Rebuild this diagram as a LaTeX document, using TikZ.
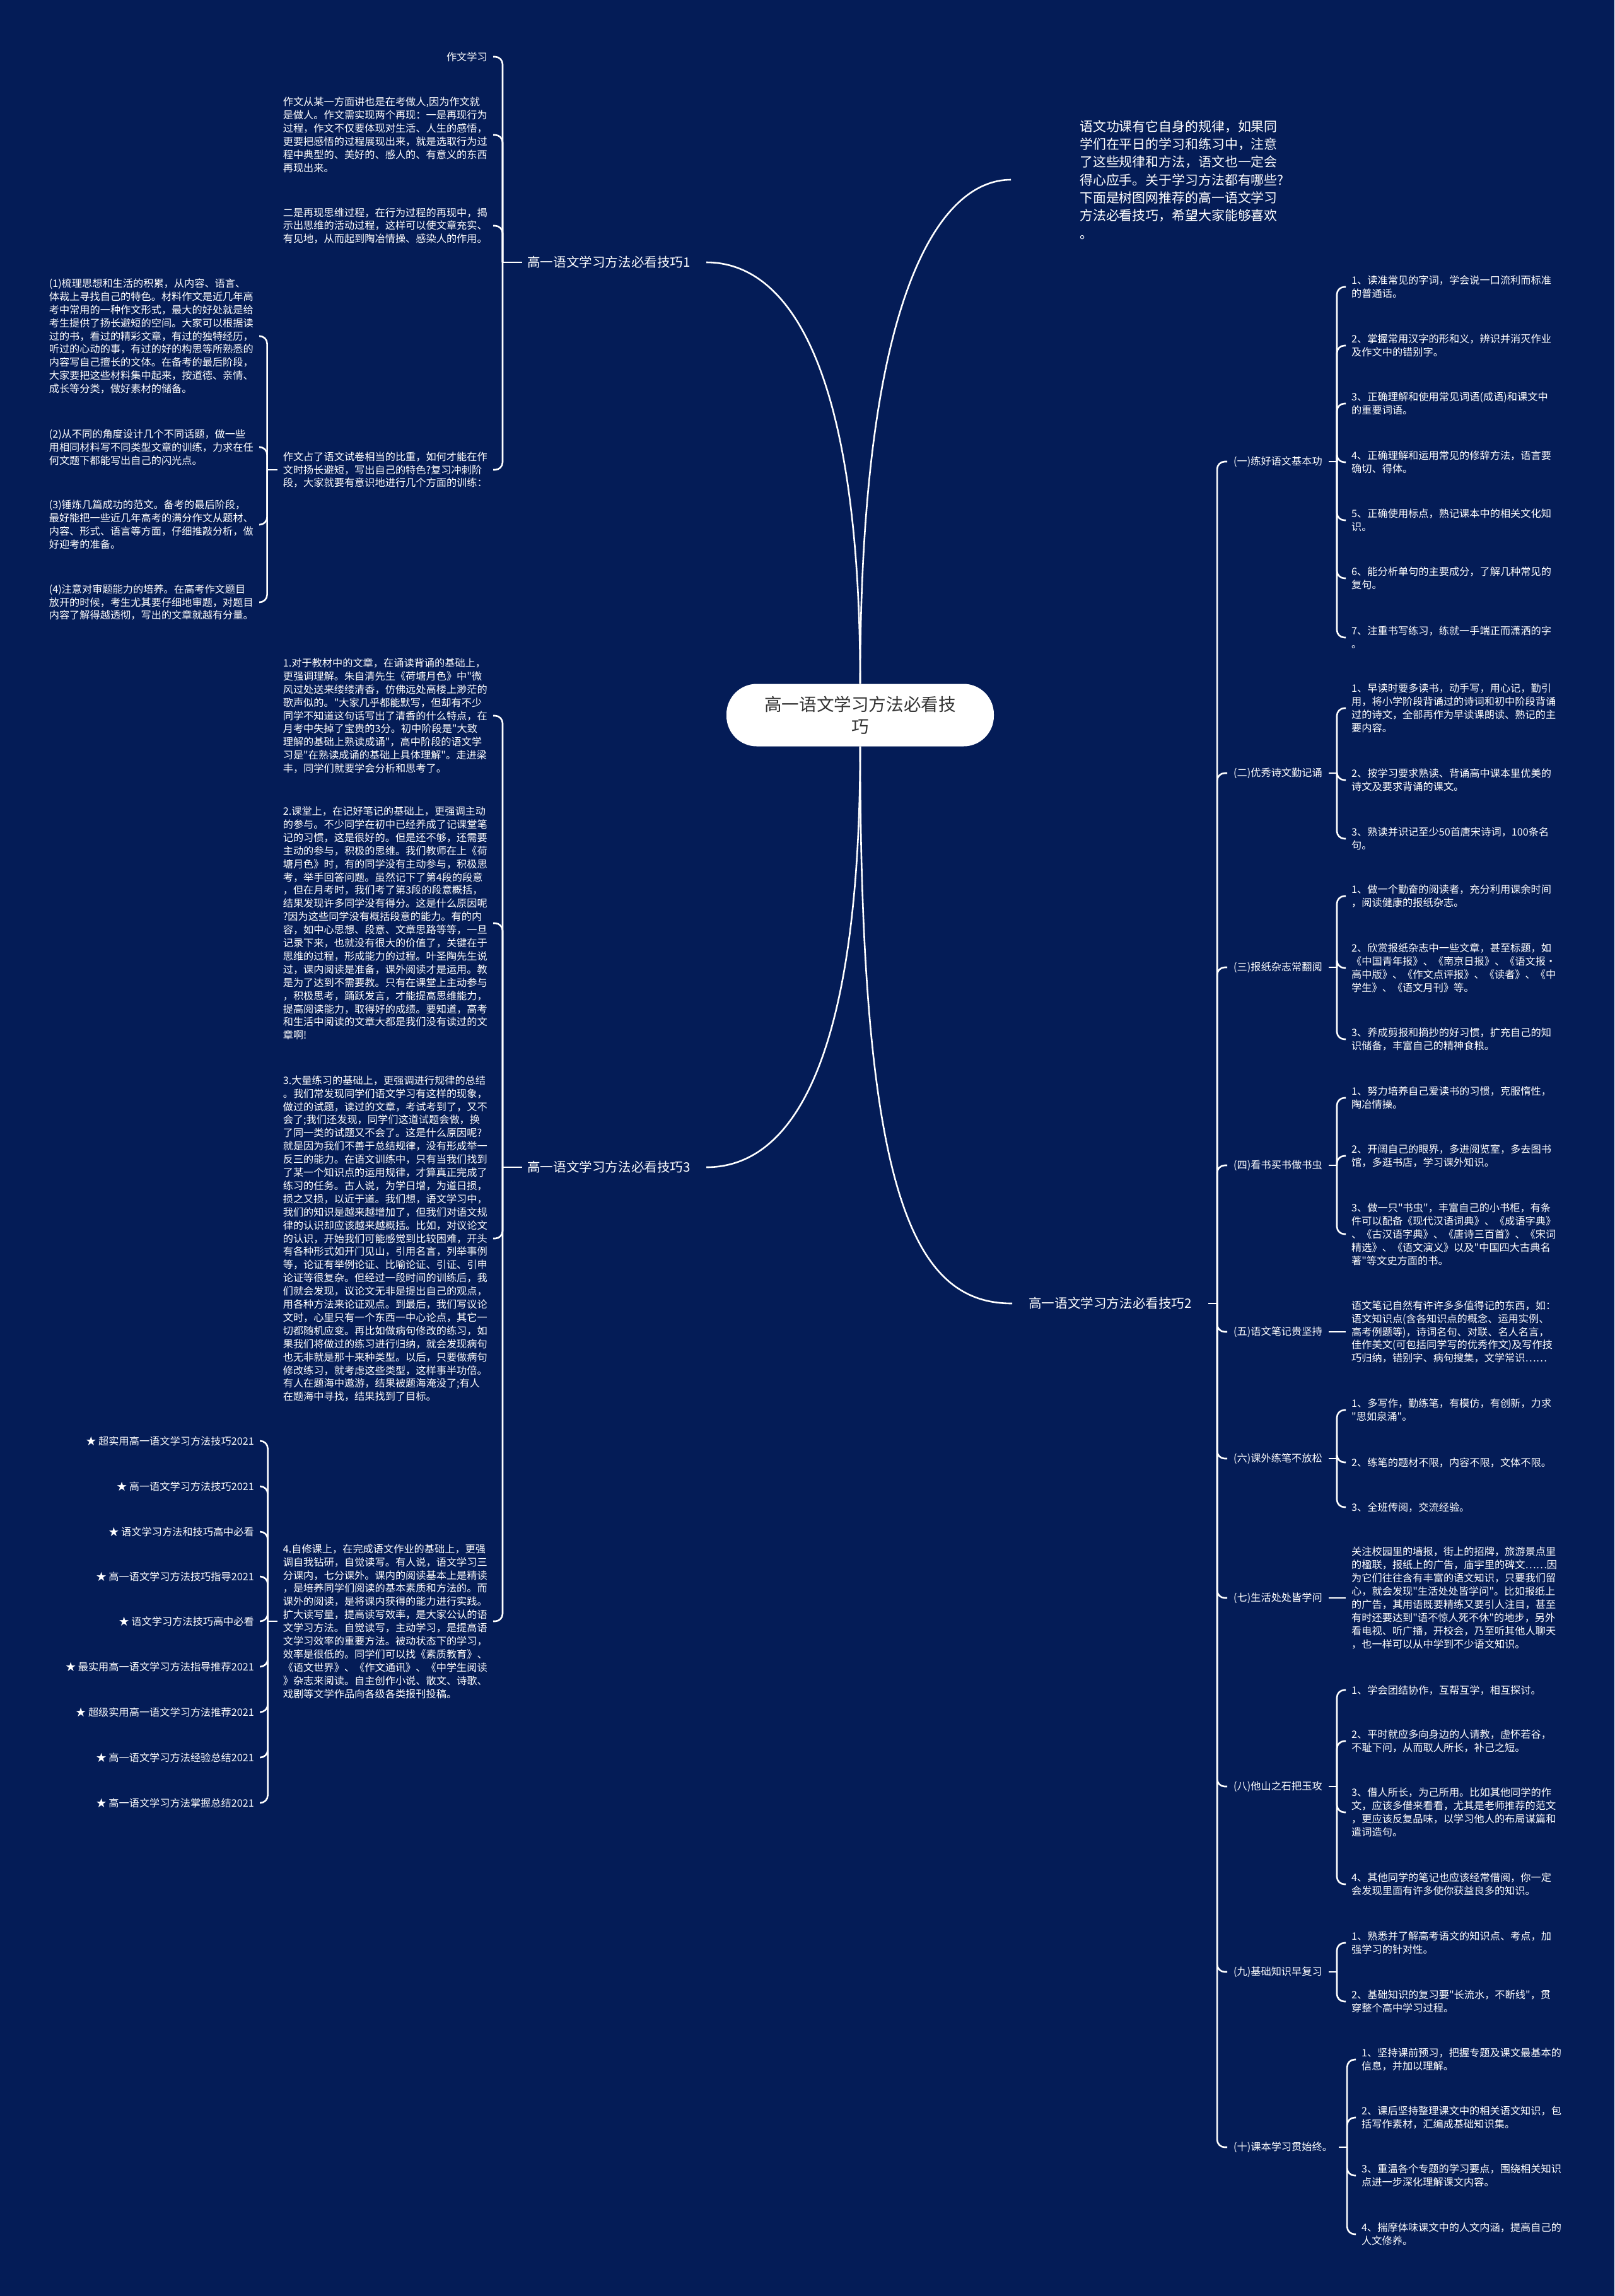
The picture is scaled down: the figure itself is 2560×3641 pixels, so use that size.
\documentclass[tikz,border=0pt]{standalone}
\usepackage{fontspec}
\newfontfamily\cjk{Noto Sans CJK SC}
\usetikzlibrary{calc,positioning}
\definecolor{Navy}{HTML}{041C57}
\definecolor{Ink}{HTML}{333333}

\begin{document}
\begin{tikzpicture}[x=1pt, y=-1pt,
    hub/.style={fill=white, rounded corners=48pt, minimum width=424pt, minimum height=99pt, text=Ink, align=center, font=\cjk\fontsize{27.6}{35}\selectfont},
    intro/.style={text=white, align=left, anchor=west, inner xsep=9pt, font=\cjk\fontsize{20.9}{28.3}\selectfont},
    topic/.style={text=white, inner xsep=8pt, inner ysep=0pt, font=\cjk\fontsize{20.6}{25}\selectfont},
    subtopic/.style={text=white, anchor=west, inner xsep=10pt, inner ysep=0pt, font=\cjk\fontsize{16.2}{20.9}\selectfont},
    note/.style={text=white, align=left, inner xsep=9pt, inner ysep=0pt, font=\cjk\fontsize{16.2}{20.9}\selectfont},
    wire/.style={draw=white, line width=2.6pt},
    curl/.style={wire, rounded corners=12pt}]
    \fill[Navy] (0,0) rectangle (2560,3641);
    \useasboundingbox (0,0) rectangle (2560,3641);

    \node[hub] (root) at (1364,1134) {高一语文学习方法必看技\\巧};

    \node[intro] (intro) at (1703,285) {语文功课有它自身的规律，如果同\\学们在平日的学习和练习中，注意\\了这些规律和方法，语文也一定会\\得心应手。关于学习方法都有哪些?\\下面是树图网推荐的高一语文学习\\方法必看技巧，希望大家能够喜欢\\。};

    \node[topic, anchor=west] (b1) at (828,416) {高一语文学习方法必看技巧1};
    \node[topic, anchor=west] (b3) at (828,1851) {高一语文学习方法必看技巧3};
    \node[topic, anchor=west] (b2) at (1623,2067) {高一语文学习方法必看技巧2};
    \coordinate (j1) at ([xshift=-31pt]b1.west);
    \coordinate (j3) at ([xshift=-31pt]b3.west);
    \coordinate (j2) at ([xshift=32pt]b2.east);

    \draw[wire] (root.north) .. controls ($(root.north)+(0,-620)$) and ($(intro.west)+(-212,0)$) .. ($(intro.west)+(-100,0)$);
    \draw[wire] (root.north) .. controls ($(root.north)+(0,-515)$) and ($(b1.east)+(142,0)$) .. ([xshift=17pt]b1.east);
    \draw[wire] (root.south) .. controls ($(root.south)+(0,516)$) and ($(b3.east)+(146,0)$) .. ([xshift=17pt]b3.east);
    \draw[wire] (root.south) .. controls ($(root.south)+(0,716)$) and ($(b2.west)+(-173,0)$) .. ([xshift=-18pt]b2.west);
    \draw[wire] (b1.west) -- (j1);
    \draw[wire] (b3.west) -- (j3);
    \draw[wire] ([xshift=18pt]b2.east) -- (j2);

    % left, first group
    \node[note, anchor=east] (n11) at (782,90) {作文学习};
    \node[note, anchor=east] (n12) at (782,214) {作文从某一方面讲也是在考做人,因为作文就\\是做人。作文需实现两个再现：一是再现行为\\过程，作文不仅要体现对生活、人生的感悟，\\更要把感悟的过程展现出来，就是选取行为过\\程中典型的、美好的、感人的、有意义的东西\\再现出来。};
    \node[note, anchor=east] (n13) at (782,358) {二是再现思维过程，在行为过程的再现中，揭\\示出思维的活动过程，这样可以使文章充实、\\有见地，从而起到陶冶情操、感染人的作用。};
    \node[note, anchor=east] (n14) at (782,745) {作文占了语文试卷相当的比重，如何才能在作\\文时扬长避短，写出自己的特色?复习冲刺阶\\段，大家就要有意识地进行几个方面的训练：};
    \draw[curl] (j1) |- (n11.east);
    \draw[curl] (j1) |- (n12.east);
    \draw[curl] (j1) |- (n13.east);
    \draw[curl] (j1) |- (n14.east);

    \node[note, anchor=east] (n141) at (411,533) {(1)梳理思想和生活的积累，从内容、语言、\\体裁上寻找自己的特色。材料作文是近几年高\\考中常用的一种作文形式，最大的好处就是给\\考生提供了扬长避短的空间。大家可以根据读\\过的书，看过的精彩文章，有过的独特经历，\\听过的心动的事，有过的好的构思等所熟悉的\\内容写自己擅长的文体。在备考的最后阶段，\\大家要把这些材料集中起来，按道德、亲情、\\成长等分类，做好素材的储备。};
    \node[note, anchor=east] (n142) at (411,709) {(2)从不同的角度设计几个不同话题，做一些\\用相同材料写不同类型文章的训练，力求在任\\何文题下都能写出自己的闪光点。};
    \node[note, anchor=east] (n143) at (411,832) {(3)锤炼几篇成功的范文。备考的最后阶段，\\最好能把一些近几年高考的满分作文从题材、\\内容、形式、语言等方面，仔细推敲分析，做\\好迎考的准备。};
    \node[note, anchor=east] (n144) at (411,955) {(4)注意对审题能力的培养。在高考作文题目\\放开的时候，考生尤其要仔细地审题，对题目\\内容了解得越透彻，写出的文章就越有分量。};
    \coordinate (j14) at ([xshift=-16pt]n14.west);
    \draw[wire] (n14.west) -- (j14);
    \draw[curl] (j14) |- (n141.east);
    \draw[curl] (j14) |- (n142.east);
    \draw[curl] (j14) |- (n143.east);
    \draw[curl] (j14) |- (n144.east);

    % left, third group
    \node[note, anchor=east] (n31) at (782,1135) {1.对于教材中的文章，在诵读背诵的基础上，\\更强调理解。朱自清先生《荷塘月色》中"微\\风过处送来缕缕清香，仿佛远处高楼上渺茫的\\歌声似的。"大家几乎都能默写，但却有不少\\同学不知道这句话写出了清香的什么特点，在\\月考中失掉了宝贵的3分。初中阶段是"大致\\理解的基础上熟读成诵"，高中阶段的语文学\\习是"在熟读成诵的基础上具体理解"。走进梁\\丰，同学们就要学会分析和思考了。};
    \node[note, anchor=east] (n32) at (782,1464) {2.课堂上，在记好笔记的基础上，更强调主动\\的参与。不少同学在初中已经养成了记课堂笔\\记的习惯，这是很好的。但是还不够，还需要\\主动的参与，积极的思维。我们教师在上《荷\\塘月色》时，有的同学没有主动参与，积极思\\考，举手回答问题。虽然记下了第4段的段意\\，但在月考时，我们考了第3段的段意概括，\\结果发现许多同学没有得分。这是什么原因呢\\?因为这些同学没有概括段意的能力。有的内\\容，如中心思想、段意、文章思路等等，一旦\\记录下来，也就没有很大的价值了，关键在于\\思维的过程，形成能力的过程。叶圣陶先生说\\过，课内阅读是准备，课外阅读才是运用。教\\是为了达到不需要教。只有在课堂上主动参与\\，积极思考，踊跃发言，才能提高思维能力，\\提高阅读能力，取得好的成绩。要知道，高考\\和生活中阅读的文章大都是我们没有读过的文\\章啊!};
    \node[note, anchor=east] (n33) at (782,1964) {3.大量练习的基础上，更强调进行规律的总结\\。我们常发现同学们语文学习有这样的现象，\\做过的试题，读过的文章，考试考到了，又不\\会了;我们还发现，同学们这道试题会做，换\\了同一类的试题又不会了。这是什么原因呢?\\就是因为我们不善于总结规律，没有形成举一\\反三的能力。在语文训练中，只有当我们找到\\了某一个知识点的运用规律，才算真正完成了\\练习的任务。古人说，为学日增，为道日损，\\损之又损，以近于道。我们想，语文学习中，\\我们的知识是越来越增加了，但我们对语文规\\律的认识却应该越来越概括。比如，对议论文\\的认识，开始我们可能感觉到比较困难，开头\\有各种形式如开门见山，引用名言，列举事例\\等，论证有举例论证、比喻论证、引证、引申\\论证等很复杂。但经过一段时间的训练后，我\\们就会发现，议论文无非是提出自己的观点，\\用各种方法来论证观点。到最后，我们写议论\\文时，心里只有一个东西一中心论点，其它一\\切都随机应变。再比如做病句修改的练习，如\\果我们将做过的练习进行归纳，就会发现病句\\也无非就是那十来种类型。以后，只要做病句\\修改练习，就考虑这些类型，这样事半功倍。\\有人在题海中遨游，结果被题海淹没了;有人\\在题海中寻找，结果找到了目标。};
    \node[note, anchor=east] (n34) at (782,2571) {4.自修课上，在完成语文作业的基础上，更强\\调自我钻研，自觉读写。有人说，语文学习三\\分课内，七分课外。课内的阅读基本上是精读\\，是培养同学们阅读的基本素质和方法的。而\\课外的阅读，是将课内获得的能力进行实践。\\扩大读写量，提高读写效率，是大家公认的语\\文学习方法。自觉读写，主动学习，是提高语\\文学习效率的重要方法。被动状态下的学习，\\效率是很低的。同学们可以找《素质教育》、\\《语文世界》、《作文通讯》、《中学生阅读\\》杂志来阅读。自主创作小说、散文、诗歌、\\戏剧等文学作品向各级各类报刊投稿。};
    \draw[curl] (j3) |- (n31.east);
    \draw[curl] (j3) |- (n32.east);
    \draw[curl] (j3) |- (n33.east);
    \draw[curl] (j3) |- (n34.east);

    \node[note, anchor=east] (s1) at (412,2285) {★ 超实用高一语文学习方法技巧2021};
    \node[note, anchor=east] (s2) at (412,2357) {★ 高一语文学习方法技巧2021};
    \node[note, anchor=east] (s3) at (412,2429) {★ 语文学习方法和技巧高中必看};
    \node[note, anchor=east] (s4) at (412,2500) {★ 高一语文学习方法技巧指导2021};
    \node[note, anchor=east] (s5) at (412,2571) {★ 语文学习方法技巧高中必看};
    \node[note, anchor=east] (s6) at (412,2643) {★ 最实用高一语文学习方法指导推荐2021};
    \node[note, anchor=east] (s7) at (412,2715) {★ 超级实用高一语文学习方法推荐2021};
    \node[note, anchor=east] (s8) at (412,2787) {★ 高一语文学习方法经验总结2021};
    \node[note, anchor=east] (s9) at (412,2859) {★ 高一语文学习方法掌握总结2021};
    \coordinate (j34) at ([xshift=-15pt]n34.west);
    \draw[wire] (n34.west) -- (j34);
    \draw[curl] (j34) |- (s1.east);
    \draw[curl] (j34) |- (s2.east);
    \draw[curl] (j34) |- (s3.east);
    \draw[curl] (j34) |- (s4.east);
    \draw[curl] (j34) |- (s5.east);
    \draw[curl] (j34) |- (s6.east);
    \draw[curl] (j34) |- (s7.east);
    \draw[curl] (j34) |- (s8.east);
    \draw[curl] (j34) |- (s9.east);

    % right, second group
    \node[subtopic] (c1) at (1946,732) {(一)练好语文基本功};
    \node[subtopic] (c2) at (1946,1226) {(二)优秀诗文勤记诵};
    \node[subtopic] (c3) at (1946,1534) {(三)报纸杂志常翻阅};
    \node[subtopic] (c4) at (1946,1848) {(四)看书买书做书虫};
    \node[subtopic] (c5) at (1946,2112) {(五)语文笔记贵坚持};
    \node[subtopic] (c6) at (1946,2313) {(六)课外练笔不放松};
    \node[subtopic] (c7) at (1946,2534) {(七)生活处处皆学问};
    \node[subtopic] (c8) at (1946,2833) {(八)他山之石把玉攻};
    \node[subtopic] (c9) at (1946,3127) {(九)基础知识早复习};
    \node[subtopic] (c10) at (1946,3405) {(十)课本学习贯始终。};
    \draw[curl] (j2) |- (c1.west);
    \draw[curl] (j2) |- (c2.west);
    \draw[curl] (j2) |- (c3.west);
    \draw[curl] (j2) |- (c4.west);
    \draw[curl] (j2) |- (c5.west);
    \draw[curl] (j2) |- (c6.west);
    \draw[curl] (j2) |- (c7.west);
    \draw[curl] (j2) |- (c8.west);
    \draw[curl] (j2) |- (c9.west);
    \draw[curl] (j2) |- (c10.west);

    \node[note, anchor=west] (r11) at (2134,455) {1、读准常见的字词，学会说一口流利而标准\\的普通话。};
    \node[note, anchor=west] (r12) at (2134,548) {2、掌握常用汉字的形和义，辨识并消灭作业\\及作文中的错别字。};
    \node[note, anchor=west] (r13) at (2134,640) {3、正确理解和使用常见词语(成语)和课文中\\的重要词语。};
    \node[note, anchor=west] (r14) at (2134,733) {4、正确理解和运用常见的修辞方法，语言要\\确切、得体。};
    \node[note, anchor=west] (r15) at (2134,825) {5、正确使用标点，熟记课本中的相关文化知\\识。};
    \node[note, anchor=west] (r16) at (2134,917) {6、能分析单句的主要成分，了解几种常见的\\复句。};
    \node[note, anchor=west] (r17) at (2134,1011) {7、注重书写练习，练就一手端正而潇洒的字\\。};
    \coordinate (k1) at ([xshift=13pt]c1.east);
    \draw[wire] (c1.east) -- (k1);
    \draw[curl] (k1) |- (r11.west);
    \draw[curl] (k1) |- (r12.west);
    \draw[curl] (k1) |- (r13.west);
    \draw[curl] (k1) |- (r14.west);
    \draw[curl] (k1) |- (r15.west);
    \draw[curl] (k1) |- (r16.west);
    \draw[curl] (k1) |- (r17.west);

    \node[note, anchor=west] (r21) at (2134,1123) {1、早读时要多读书，动手写，用心记，勤引\\用，将小学阶段背诵过的诗词和初中阶段背诵\\过的诗文，全部再作为早读课朗读、熟记的主\\要内容。};
    \node[note, anchor=west] (r22) at (2134,1237) {2、按学习要求熟读、背诵高中课本里优美的\\诗文及要求背诵的课文。};
    \node[note, anchor=west] (r23) at (2134,1330) {3、熟读并识记至少50首唐宋诗词，100条名\\句。};
    \coordinate (k2) at ([xshift=13pt]c2.east);
    \draw[wire] (c2.east) -- (k2);
    \draw[curl] (k2) |- (r21.west);
    \draw[curl] (k2) |- (r22.west);
    \draw[curl] (k2) |- (r23.west);

    \node[note, anchor=west] (r31) at (2134,1421) {1、做一个勤奋的阅读者，充分利用课余时间\\，阅读健康的报纸杂志。};
    \node[note, anchor=west] (r32) at (2134,1535) {2、欣赏报纸杂志中一些文章，甚至标题，如\\《中国青年报》、《南京日报》、《语文报·\\高中版》、《作文点评报》、《读者》、《中\\学生》、《语文月刊》等。};
    \node[note, anchor=west] (r33) at (2134,1648) {3、养成剪报和摘抄的好习惯，扩充自己的知\\识储备，丰富自己的精神食粮。};
    \coordinate (k3) at ([xshift=13pt]c3.east);
    \draw[wire] (c3.east) -- (k3);
    \draw[curl] (k3) |- (r31.west);
    \draw[curl] (k3) |- (r32.west);
    \draw[curl] (k3) |- (r33.west);

    \node[note, anchor=west] (r41) at (2134,1741) {1、努力培养自己爱读书的习惯，克服惰性，\\陶冶情操。};
    \node[note, anchor=west] (r42) at (2134,1833) {2、开阔自己的眼界，多进阅览室，多去图书\\馆，多逛书店，学习课外知识。};
    \node[note, anchor=west] (r43) at (2134,1957) {3、做一只"书虫"，丰富自己的小书柜，有条\\件可以配备《现代汉语词典》、《成语字典》\\、《古汉语字典》、《唐诗三百首》、《宋词\\精选》、《语文演义》以及"中国四大古典名\\著"等文史方面的书。};
    \coordinate (k4) at ([xshift=13pt]c4.east);
    \draw[wire] (c4.east) -- (k4);
    \draw[curl] (k4) |- (r41.west);
    \draw[curl] (k4) |- (r42.west);
    \draw[curl] (k4) |- (r43.west);

    \node[note, anchor=west] (r51) at (2134,2112) {语文笔记自然有许许多多值得记的东西，如：\\语文知识点(含各知识点的概念、运用实例、\\高考例题等)，诗词名句、对联、名人名言，\\佳作美文(可包括同学写的优秀作文)及写作技\\巧归纳，错别字、病句搜集，文学常识……};
    \draw[wire] (c5.east) -- (r51.west);

    \node[note, anchor=west] (r61) at (2134,2236) {1、多写作，勤练笔，有模仿，有创新，力求\\"思如泉涌"。};
    \node[note, anchor=west] (r62) at (2134,2319) {2、练笔的题材不限，内容不限，文体不限。};
    \node[note, anchor=west] (r63) at (2134,2390) {3、全班传阅，交流经验。};
    \coordinate (k6) at ([xshift=13pt]c6.east);
    \draw[wire] (c6.east) -- (k6);
    \draw[curl] (k6) |- (r61.west);
    \draw[curl] (k6) |- (r62.west);
    \draw[curl] (k6) |- (r63.west);

    \node[note, anchor=west] (r71) at (2134,2534) {关注校园里的墙报，街上的招牌，旅游景点里\\的楹联，报纸上的广告，庙宇里的碑文……因\\为它们往往含有丰富的语文知识，只要我们留\\心，就会发现"生活处处皆学问"。比如报纸上\\的广告，其用语既要精练又要引人注目，甚至\\有时还要达到"语不惊人死不休"的地步，另外\\看电视、听广播，开校会，乃至听其他人聊天\\，也一样可以从中学到不少语文知识。};
    \draw[wire] (c7.east) -- (r71.west);

    \node[note, anchor=west] (r81) at (2134,2680) {1、学会团结协作，互帮互学，相互探讨。};
    \node[note, anchor=west] (r82) at (2134,2761) {2、平时就应多向身边的人请教，虚怀若谷，\\不耻下问，从而取人所长，补己之短。};
    \node[note, anchor=west] (r83) at (2134,2874) {3、借人所长，为己所用。比如其他同学的作\\文，应该多借来看看，尤其是老师推荐的范文\\，更应该反复品味，以学习他人的布局谋篇和\\遣词造句。};
    \node[note, anchor=west] (r84) at (2134,2988) {4、其他同学的笔记也应该经常借阅，你一定\\会发现里面有许多使你获益良多的知识。};
    \coordinate (k8) at ([xshift=13pt]c8.east);
    \draw[wire] (c8.east) -- (k8);
    \draw[curl] (k8) |- (r81.west);
    \draw[curl] (k8) |- (r82.west);
    \draw[curl] (k8) |- (r83.west);
    \draw[curl] (k8) |- (r84.west);

    \node[note, anchor=west] (r91) at (2134,3081) {1、熟悉并了解高考语文的知识点、考点，加\\强学习的针对性。};
    \node[note, anchor=west] (r92) at (2134,3174) {2、基础知识的复习要"长流水，不断线"，贯\\穿整个高中学习过程。};
    \coordinate (k9) at ([xshift=13pt]c9.east);
    \draw[wire] (c9.east) -- (k9);
    \draw[curl] (k9) |- (r91.west);
    \draw[curl] (k9) |- (r92.west);

    \node[note, anchor=west] (r101) at (2150,3266) {1、坚持课前预习，把握专题及课文最基本的\\信息，并加以理解。};
    \node[note, anchor=west] (r102) at (2150,3358) {2、课后坚持整理课文中的相关语文知识，包\\括写作素材，汇编成基础知识集。};
    \node[note, anchor=west] (r103) at (2150,3450) {3、重温各个专题的学习要点，围绕相关知识\\点进一步深化理解课文内容。};
    \node[note, anchor=west] (r104) at (2150,3543) {4、揣摩体味课文中的人文内涵，提高自己的\\人文修养。};
    \coordinate (k10) at ([xshift=13pt]c10.east);
    \draw[wire] (c10.east) -- (k10);
    \draw[curl] (k10) |- (r101.west);
    \draw[curl] (k10) |- (r102.west);
    \draw[curl] (k10) |- (r103.west);
    \draw[curl] (k10) |- (r104.west);
\end{tikzpicture}
\end{document}
